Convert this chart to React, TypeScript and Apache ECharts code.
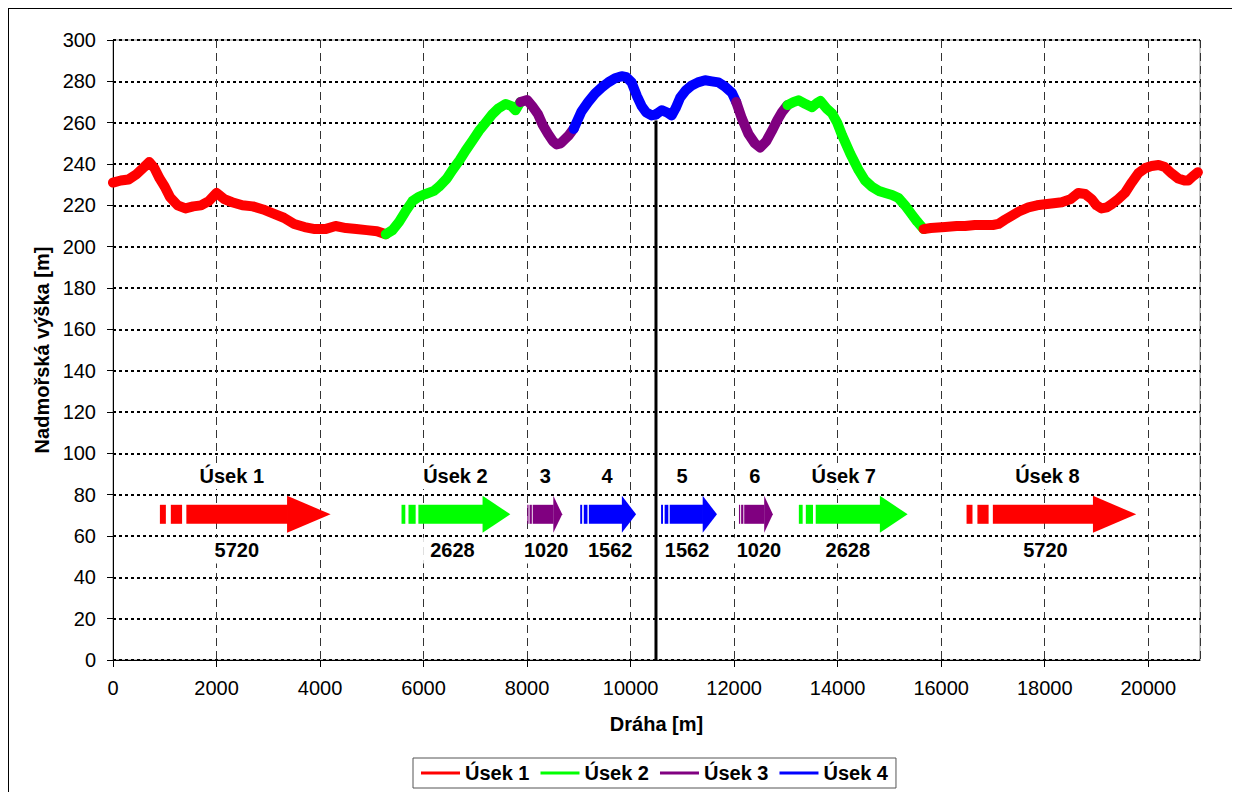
import React, { useEffect, useRef } from "react";
import * as echarts from "echarts";

// ---- Data ----
const xTicks = { min: 0, max: 21000, interval: 2000 };
const yTicks = { min: 0, max: 300, interval: 20 };

const seriesNames = ["Úsek 1", "Úsek 2", "Úsek 3", "Úsek 4"];
const seriesColors = ["#FF0000", "#00FF00", "#800080", "#0000FF"];

// elevation profile segments [distance m, elevation m]
const seg1: number[][] = [[0,231],[150,232],[300,232.5],[450,235],[600,238.5],[700,241],[800,238],[900,233],[1000,229],[1100,224],[1250,220],[1400,218.5],[1550,219.5],[1700,220],[1850,222],[2000,226],[2150,223],[2300,221.5],[2500,220],[2700,219.5],[2900,218],[3100,216],[3300,214],[3500,211],[3700,209.5],[3900,208.5],[4100,208.5],[4300,210],[4500,209],[4700,208.5],[4900,208],[5100,207.5],[5270,206]];
const seg2: number[][] = [[5270,206],[5400,208],[5527,212],[5650,217],[5784,222],[5900,224],[6041,225.5],[6200,227],[6298,229],[6450,233],[6555,237],[6700,242],[6812,246.5],[6950,251.5],[7069,256],[7200,260],[7326,264],[7450,267],[7584,269],[7700,268],[7776,266],[7870,270]];
const seg3: number[][] = [[7870,270],[8000,271],[8100,268],[8213,264],[8300,259],[8406,254.5],[8500,251],[8568,249.5],[8650,250],[8729,252],[8810,254],[8900,257]];
const seg4: number[][] = [[8900,257],[9052,265.5],[9180,270],[9310,274],[9440,277],[9568,279.5],[9700,281.5],[9826,282.5],[9920,282],[10019,279.5],[10120,273],[10213,268],[10300,265],[10406,263.5],[10490,264]];
const seg5: number[][] = [[10490,264],[10600,266],[10700,265],[10794,263.5],[10870,267],[10955,272],[11060,275.5],[11181,278],[11300,279.5],[11439,280.5],[11570,280],[11697,279.5],[11820,277.5],[11955,274.5],[12040,270]];
const seg6: number[][] = [[12040,270],[12150,262],[12277,254.5],[12400,250],[12503,248],[12620,251],[12729,256],[12830,261],[12923,265],[13030,268.5]];
const seg7: number[][] = [[13030,268.5],[13150,270],[13248,270.8],[13380,269],[13505,267.5],[13600,269.5],[13666,270.5],[13780,267],[13891,264.5],[13990,260],[14084,254],[14244,245],[14405,237],[14530,232],[14662,229],[14790,227],[14920,226],[15050,225],[15177,223.5],[15300,220],[15434,215.5],[15540,212],[15660,208.5]];
const seg8: number[][] = [[15660,208.5],[15800,209],[16077,209.5],[16300,210],[16463,210],[16650,210.5],[16849,210.5],[17000,210.5],[17106,211],[17230,213],[17363,215],[17500,217],[17685,219],[17850,220],[18006,220.5],[18170,221],[18328,221.5],[18500,223],[18649,226],[18780,225.5],[18906,223],[19000,220],[19099,218.5],[19200,219],[19292,220.5],[19420,223],[19550,226],[19680,231],[19807,235.5],[19940,238],[20064,239],[20200,239.5],[20321,238.5],[20450,235.5],[20579,233],[20700,232],[20772,232],[20860,234],[20960,236]];
// which legend entry (colour) each segment belongs to
const segments = [seg1, seg2, seg3, seg4, seg5, seg6, seg7, seg8];
const segmentGroup = [0, 1, 2, 3, 3, 2, 1, 0];

// turning point marker
const turnX = 10490;
const turnTop = 261;

// section arrows
const arrowStart = [906, 5574, 8004, 9026, 10588, 12093, 13250, 16490];
const arrowEnd = [4204, 7676, 8679, 10106, 11668, 12748, 15352, 19768];
const arrowGroup = [0, 1, 2, 3, 3, 2, 1, 0];
const arrowLevel = 70.5;
const topLabels = ["Úsek 1", "Úsek 2", "3", "4", "5", "6", "Úsek 7", "Úsek 8"];
const bottomLabels = ["5720", "2628", "1020", "1562", "1562", "1020", "2628", "5720"];
const topLabelX = [2295, 6615, 8351, 9547, 10993, 12401, 14117, 18052];
const bottomLabelX = [2392, 6557, 8370, 9605, 11090, 12478, 14195, 18013];
const topLabelLevel = 89;
const bottomLabelLevel = 53;

const FONT = "Arial, 'Liberation Sans', Helvetica, sans-serif";

export default function App() {
  const ref = useRef<HTMLDivElement>(null);

  useEffect(() => {
    if (!ref.current) return;
    const chart = echarts.init(ref.current, null, { renderer: "svg" });

    const lineSeries: any[] = segments.map((seg, i) => ({
      type: "line",
      name: seriesNames[segmentGroup[i]],
      data: seg,
      symbol: "none",
      showSymbol: false,
      z: 5,
      lineStyle: { color: seriesColors[segmentGroup[i]], width: 10, cap: "round", join: "round" },
      itemStyle: { color: seriesColors[segmentGroup[i]] },
    }));

    const arrowSeries = {
      type: "custom",
      name: "arrows",
      z: 3,
      silent: true,
      encode: { x: [0, 1], y: 2 },
      data: arrowStart.map((s, i) => [s, arrowEnd[i], arrowLevel]),
      renderItem: (params: any, api: any) => {
        const i = params.dataIndex;
        const p0 = api.coord([api.value(0), api.value(2)]);
        const p1 = api.coord([api.value(1), api.value(2)]);
        const L = p1[0] - p0[0];
        const cy = p0[1];
        const color = seriesColors[arrowGroup[i]];
        const rect = (a: number, b: number) => ({
          type: "rect",
          shape: { x: p0[0] + a * L, y: cy - 9.5, width: (b - a) * L, height: 19 },
          style: { fill: color },
        });
        const hx = p0[0] + 0.745 * L;
        const head = {
          type: "polygon",
          shape: { points: [[hx, cy - 18.5], [p1[0], cy], [hx, cy + 18.5]] },
          style: { fill: color },
        };
        const tp = api.coord([topLabelX[i], topLabelLevel]);
        const bp = api.coord([bottomLabelX[i], bottomLabelLevel]);
        const txt = (p: number[], t: string) => ({
          type: "text",
          x: p[0],
          y: p[1],
          style: {
            text: t,
            fill: "#000",
            fontSize: 20,
            fontWeight: "bold",
            fontFamily: FONT,
            align: "center",
            verticalAlign: "middle",
            backgroundColor: "#fff",
            padding: [3, 7],
          },
        });
        return {
          type: "group",
          children: [
            rect(0, 0.035),
            rect(0.064, 0.13),
            rect(0.155, 0.75),
            head,
            txt(tp, topLabels[i]),
            txt(bp, bottomLabels[i]),
          ],
        };
      },
    };

    const turnSeries = {
      type: "line",
      name: "turn",
      data: [[turnX, 0], [turnX, turnTop]],
      symbol: "none",
      z: 4,
      lineStyle: { color: "#000", width: 3 },
    };

    chart.setOption({
      animation: false,
      backgroundColor: "#fff",
      textStyle: { fontFamily: FONT },
      grid: {
        left: 104,
        top: 31,
        width: 1087,
        height: 620,
        show: true,
        borderColor: "#888",
        borderWidth: 1,
        containLabel: false,
      },
      legend: {
        data: seriesNames,
        left: 404,
        top: 749,
        orient: "horizontal",
        icon: "rect",
        itemWidth: 39,
        itemHeight: 3,
        itemGap: 11,
        padding: [5, 8],
        borderColor: "#555",
        borderWidth: 1,
        textStyle: { fontSize: 20, fontWeight: "bold", color: "#000", fontFamily: FONT },
      },
      xAxis: {
        type: "value",
        min: xTicks.min,
        max: xTicks.max,
        interval: xTicks.interval,
        name: "Dráha [m]",
        nameLocation: "middle",
        nameGap: 54,
        nameTextStyle: { fontSize: 20, fontWeight: "bold", color: "#000", fontFamily: FONT },
        axisLine: { show: true, onZero: false, lineStyle: { color: "#000", width: 1 } },
        axisTick: { show: true, length: 7, lineStyle: { color: "#000" } },
        axisLabel: {
          fontSize: 20,
          color: "#000",
          margin: 18,
          showMaxLabel: false,
          fontFamily: FONT,
          formatter: (v: number) => String(v),
        },
        splitLine: { show: true, lineStyle: { color: "#333", width: 1, type: [8, 5] } },
      },
      yAxis: {
        type: "value",
        min: yTicks.min,
        max: yTicks.max,
        interval: yTicks.interval,
        name: "Nadmořská výška [m]",
        nameLocation: "middle",
        nameGap: 61,
        nameTextStyle: { fontSize: 20, fontWeight: "bold", color: "#000", fontFamily: FONT },
        axisLine: { show: true, lineStyle: { color: "#000", width: 1 } },
        axisTick: { show: true, length: 6, lineStyle: { color: "#000" } },
        axisLabel: { fontSize: 20, color: "#000", margin: 17, fontFamily: FONT, formatter: (v: number) => String(v) },
        splitLine: { show: true, lineStyle: { color: "#000", width: 2, type: [3, 3] } },
      },
      series: [arrowSeries, turnSeries, ...lineSeries],
    });

    return () => chart.dispose();
  }, []);

  return (
    <div
      ref={ref}
      style={{
        width: 1232,
        height: 784,
        boxSizing: "border-box",
        borderLeft: "1px solid #000",
        borderTop: "1px solid #000",
        background: "#fff",
      }}
    />
  );
}
